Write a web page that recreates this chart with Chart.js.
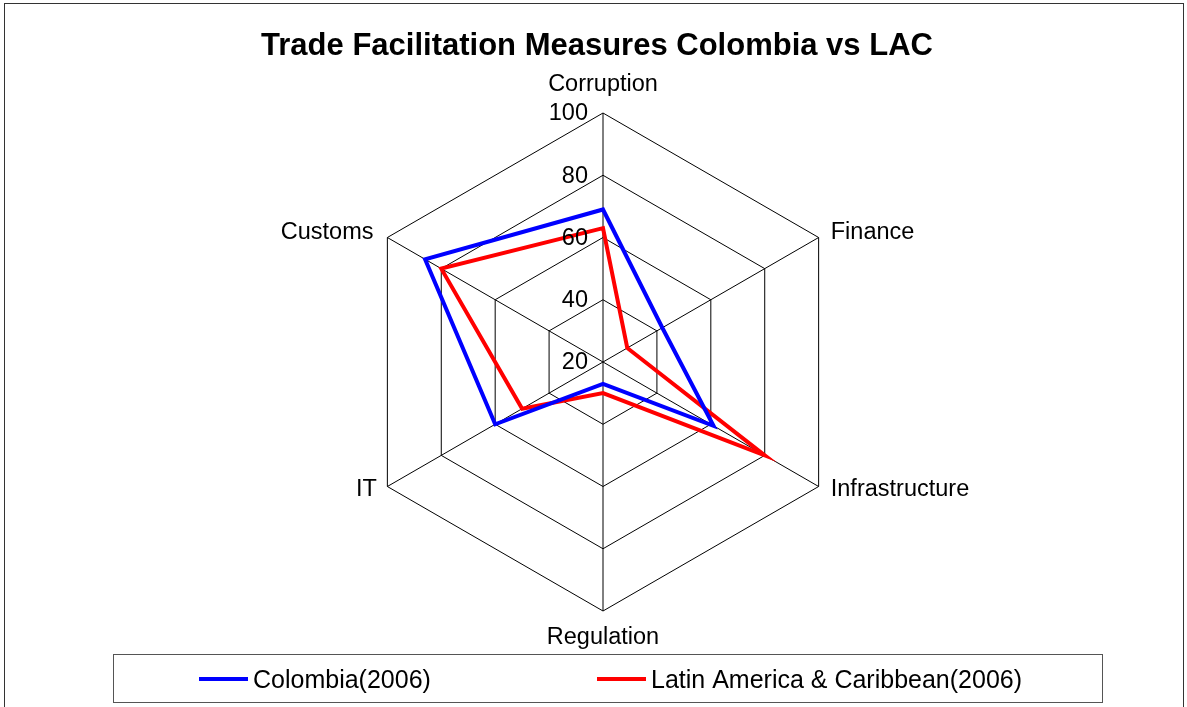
<!DOCTYPE html>
<html>
<head>
<meta charset="utf-8">
<script src="https://cdn.jsdelivr.net/npm/chart.js@4.4.1/dist/chart.umd.min.js"></script>
<style>
  html, body { margin: 0; padding: 0; background: #ffffff; }
  canvas { display: block; }
</style>
</head>
<body>
<canvas id="c" width="1187" height="707"></canvas>
<script>
const chartTitle = 'Trade Facilitation Measures Colombia vs LAC';
const categories = ['Corruption', 'Finance', 'Infrastructure', 'Regulation', 'IT', 'Customs'];
const seriesNames = ['Colombia(2006)', 'Latin America & Caribbean(2006)'];
const colombia = [69, 42, 61, 27, 60, 86];
const lac = [63, 29, 80, 30, 50, 80];
const tickMin = 20;
const tickMax = 100;
const tickStep = 20;

const FONT = '"Liberation Sans", Arial, Helvetica, sans-serif';
const TEXT_DY = 2;

// styling for point labels: padding from outer ring, alignment, vertical nudge
const labelStyle = [
  { pad: 30, align: 'center', dy: 0 },
  { pad: 14, align: 'left', dy: 0 },
  { pad: 14, align: 'left', dy: -6 },
  { pad: 25, align: 'center', dy: 0 },
  { pad: 12, align: 'right', dy: -5 },
  { pad: 16, align: 'right', dy: 1 }
];

const decor = {
  id: 'decor',
  beforeDraw(chart) {
    const ctx = chart.ctx;
    ctx.save();
    ctx.fillStyle = '#ffffff';
    ctx.fillRect(0, 0, chart.width, chart.height);
    ctx.restore();
  },
  afterDraw(chart) {
    const ctx = chart.ctx;
    const scale = chart.scales.r;
    ctx.save();
    // outer frame
    ctx.strokeStyle = '#333333';
    ctx.lineWidth = 1;
    ctx.strokeRect(4.5, 3.5, 1179, 730);

    // title
    ctx.fillStyle = '#000000';
    ctx.font = 'bold 31px ' + FONT;
    ctx.textAlign = 'center';
    ctx.textBaseline = 'middle';
    ctx.fillText(chartTitle, 597, 44 + TEXT_DY + 0.5);

    // tick labels, right-aligned just left of the vertical axis
    ctx.font = '23.5px ' + FONT;
    ctx.textAlign = 'right';
    scale.ticks.forEach(t => {
      const d = scale.getDistanceFromCenterForValue(t.value);
      ctx.fillText(String(t.value), scale.xCenter - 15, scale.yCenter - d - 1 + TEXT_DY);
    });

    // point labels
    chart.data.labels.forEach((lab, i) => {
      const st = labelStyle[i];
      const p = scale.getPointPosition(i, scale.drawingArea + st.pad);
      ctx.textAlign = st.align;
      ctx.fillText(lab, p.x, p.y + st.dy + TEXT_DY);
    });

    // legend
    ctx.strokeStyle = '#555555';
    ctx.lineWidth = 1;
    ctx.strokeRect(113.5, 654.5, 989, 48);
    const starts = [199, 597];
    ctx.font = '25px ' + FONT;
    ctx.textAlign = 'left';
    chart.data.datasets.forEach((ds, i) => {
      const x = starts[i];
      ctx.strokeStyle = ds.borderColor;
      ctx.lineWidth = 4;
      ctx.beginPath();
      ctx.moveTo(x, 679);
      ctx.lineTo(x + 49, 679);
      ctx.stroke();
      ctx.fillStyle = '#000000';
      ctx.fillText(ds.label, x + 54, 679 + TEXT_DY);
    });
    ctx.restore();
  }
};

new Chart(document.getElementById('c'), {
  type: 'radar',
  data: {
    labels: categories,
    datasets: [
      {
        label: seriesNames[0],
        data: colombia,
        borderColor: '#0000ff',
        borderWidth: 4,
        fill: false,
        pointRadius: 0,
        pointHoverRadius: 0,
        borderJoinStyle: 'miter',
        tension: 0
      },
      {
        label: seriesNames[1],
        data: lac,
        borderColor: '#ff0000',
        borderWidth: 4,
        fill: false,
        pointRadius: 0,
        pointHoverRadius: 0,
        borderJoinStyle: 'miter',
        tension: 0
      }
    ]
  },
  options: {
    responsive: false,
    animation: false,
    events: [],
    layout: { padding: { left: 354, right: 335, top: 113, bottom: 96 } },
    plugins: {
      legend: { display: false },
      title: { display: false },
      tooltip: { enabled: false }
    },
    scales: {
      r: {
        min: tickMin,
        max: tickMax,
        ticks: { stepSize: tickStep, display: false },
        pointLabels: { display: false },
        grid: { color: '#000000', lineWidth: 1, circular: false },
        angleLines: { display: true, color: '#000000', lineWidth: 1 }
      }
    }
  },
  plugins: [decor]
});
</script>
</body>
</html>
